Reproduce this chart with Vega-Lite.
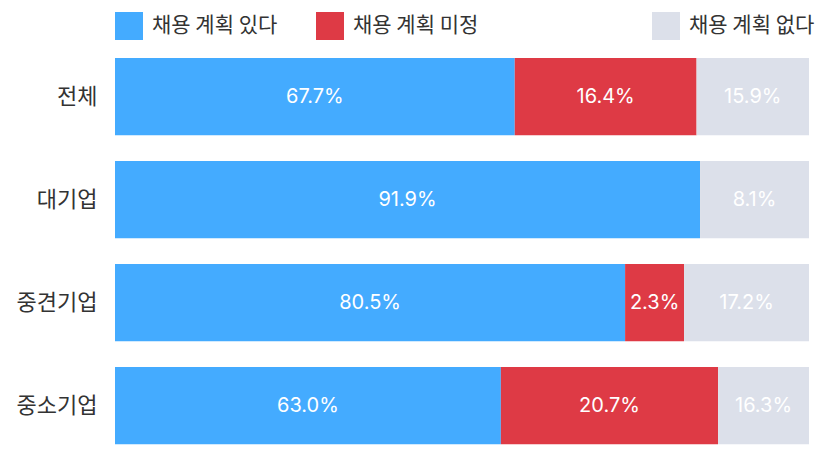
{
  "$schema": "https://vega.github.io/schema/vega-lite/v6.json",
  "width": 694,
  "height": 412,
  "autosize": {"type": "none"},
  "padding": {"left": 115, "top": 45, "right": 26, "bottom": 8},
  "background": "#ffffff",
  "config": {"view": {"stroke": null}},
  "data": {
    "values": [
      {"group": "전체", "status": "채용 계획 있다", "k": 1, "length": 57.6, "label": "67.7%"},
      {"group": "전체", "status": "채용 계획 미정", "k": 2, "length": 26.2, "label": "16.4%"},
      {"group": "전체", "status": "채용 계획 없다", "k": 3, "length": 16.2, "label": "15.9%"},
      {"group": "대기업", "status": "채용 계획 있다", "k": 1, "length": 84.3, "label": "91.9%"},
      {"group": "대기업", "status": "채용 계획 없다", "k": 3, "length": 15.7, "label": "8.1%"},
      {"group": "중견기업", "status": "채용 계획 있다", "k": 1, "length": 73.5, "label": "80.5%"},
      {"group": "중견기업", "status": "채용 계획 미정", "k": 2, "length": 8.5, "label": "2.3%"},
      {"group": "중견기업", "status": "채용 계획 없다", "k": 3, "length": 18.0, "label": "17.2%"},
      {"group": "중소기업", "status": "채용 계획 있다", "k": 1, "length": 55.6, "label": "63.0%"},
      {"group": "중소기업", "status": "채용 계획 미정", "k": 2, "length": 31.3, "label": "20.7%"},
      {"group": "중소기업", "status": "채용 계획 없다", "k": 3, "length": 13.1, "label": "16.3%"}
    ]
  },
  "transform": [
    {"stack": "length", "groupby": ["group"], "sort": [{"field": "k"}], "as": ["x0", "x1"]},
    {"calculate": "(datum.x0 + datum.x1) / 2", "as": "xm"}
  ],
  "encoding": {
    "y": {
      "field": "group",
      "type": "nominal",
      "sort": ["전체", "대기업", "중견기업", "중소기업"],
      "scale": {"paddingInner": 0.25, "paddingOuter": 0.125},
      "axis": {
        "title": null,
        "domain": false,
        "ticks": false,
        "labelFont": "Noto Sans CJK KR",
        "labelFontSize": 22,
        "labelColor": "#333333",
        "labelPadding": 18
      }
    }
  },
  "layer": [
    {
      "mark": {"type": "bar"},
      "encoding": {
        "x": {"field": "x0", "type": "quantitative", "scale": {"domain": [0, 100], "nice": false}, "axis": null},
        "x2": {"field": "x1"},
        "color": {
          "field": "status",
          "type": "nominal",
          "scale": {
            "domain": ["채용 계획 있다", "채용 계획 미정", "채용 계획 없다"],
            "range": ["#44abff", "#de3a45", "#dce0ea"]
          },
          "legend": {
            "title": null,
            "orient": "none",
            "legendX": 0,
            "legendY": -33,
            "direction": "horizontal",
            "symbolType": "square",
            "symbolSize": 784,
            "symbolStrokeWidth": 0,
            "symbolOpacity": 1,
            "labelFont": "Noto Sans CJK KR",
            "labelFontSize": 21,
            "labelColor": "#333333",
            "labelOffset": 9,
            "columnPadding": 38,
            "labelLimit": 500,
            "labelExpr": "datum.label == '채용 계획 미정' ? datum.label + '\u3000\u3000\u3000\u3000\u3000\u3000  \u200b' : datum.label"
          }
        },
        "order": {"field": "k"}
      }
    },
    {
      "mark": {"type": "text", "font": "Inter", "fontSize": 20, "color": "#ffffff", "align": "center", "baseline": "middle"},
      "encoding": {
        "x": {"field": "xm", "type": "quantitative"},
        "text": {"field": "label"}
      }
    }
  ]
}
